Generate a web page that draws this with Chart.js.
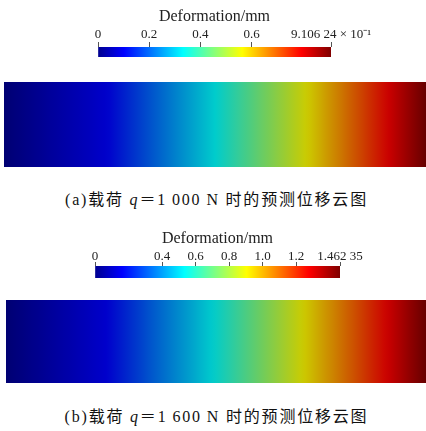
<!DOCTYPE html>
<html>
<head>
<meta charset="utf-8">
<script src="https://cdn.jsdelivr.net/npm/chart.js@4.4.0/dist/chart.umd.min.js"></script>
<style>
  html, body { margin: 0; padding: 0; background: #fff; }
  #wrap { position: relative; width: 426px; height: 431px; overflow: hidden; }
  canvas { position: absolute; }
  .cap { position: absolute; left: 0; width: 433px; text-align: center; color: #111;
         font: 16px "Liberation Serif", "Noto Sans CJK SC", serif; letter-spacing: 1.8px; line-height: 20px; white-space: nowrap; }
</style>
</head>
<body>
<div id="wrap">
  <canvas id="barA" width="426" height="59" style="left:0;top:0"></canvas>
  <canvas id="fieldA" width="422" height="85" style="left:4px;top:82px"></canvas>
  <div class="cap" id="capA" style="top:190px"></div>
  <canvas id="barB" width="426" height="61" style="left:0;top:219px"></canvas>
  <canvas id="fieldB" width="420" height="83" style="left:6px;top:300px"></canvas>
  <div class="cap" id="capB" style="top:407px"></div>
</div>
<script>
const barTitle = 'Deformation/mm';

// (a) q = 1000 N
const maxA = 0.910624;
const tickValsA = [0, 0.2, 0.4, 0.6, maxA];
const tickLabelsA = ['0', '0.2', '0.4', '0.6', '9.106 24 × 10⁻¹'];
const beamPosA = [0, 0.245, 0.5, 0.718, 0.91, 1];
const deformA = [0, 0.101, 0.332, 0.564, 0.795, 0.910624];
const captionA = '(a)载荷 <i>q</i>＝1&thinsp;000&thinsp;N 时的预测位移云图';

// (b) q = 1600 N
const maxB = 1.46235;
const tickValsB = [0, 0.4, 0.6, 0.8, 1.0, 1.2, maxB];
const tickLabelsB = ['0', '0.4', '0.6', '0.8', '1.0', '1.2', '1.462 35'];
const beamPosB = [0, 0.24, 0.493, 0.707, 0.907, 1];
const deformB = [0, 0.162, 0.534, 0.905, 1.277, 1.46235];
const captionB = '(b)载荷 <i>q</i>＝1&thinsp;600&thinsp;N 时的预测位移云图';

// jet colour map (ParaView style)
const jetKnots = [0, 0.111, 0.365, 0.492, 0.619, 0.873, 1];
const jetRGB = [[0,0,143],[0,0,255],[0,255,255],[128,255,128],[255,255,0],[255,0,0],[128,0,0]];

function jet(t, shade) {
    t = Math.max(0, Math.min(1, t));
    let k = 1;
    while (k < jetKnots.length - 1 && t > jetKnots[k]) k++;
    const f = (t - jetKnots[k - 1]) / (jetKnots[k] - jetKnots[k - 1]);
    const c = jetRGB[k - 1].map((v, j) => Math.round((v + (jetRGB[k][j] - v) * f) * shade));
    return `rgb(${c[0]},${c[1]},${c[2]})`;
}

function lerp(xs, ys, x) {
    for (let i = 1; i < xs.length; i++) {
        if (x <= xs[i]) return ys[i - 1] + (ys[i] - ys[i - 1]) * (x - xs[i - 1]) / (xs[i] - xs[i - 1]);
    }
    return ys[ys.length - 1];
}

function makeColorbar(id, max, tickVals, tickLabels, padL, padR, lay) {
    new Chart(document.getElementById(id), {
        type: 'bar',
        data: { labels: [''], datasets: [{
            data: [[0, max]],
            borderWidth: 0,
            barPercentage: 1, categoryPercentage: 1,
            backgroundColor: ctx => {
                const chart = ctx.chart;
                if (!chart.chartArea) return '#00f';
                const x = chart.scales.x;
                const g = chart.ctx.createLinearGradient(x.getPixelForValue(0), 0, x.getPixelForValue(max), 0);
                jetKnots.forEach((k, i) => g.addColorStop(k, jet(k, 1)));
                return g;
            }
        }]},
        options: {
            indexAxis: 'y', responsive: false, animation: false, events: [],
            layout: { padding: { left: padL, right: padR, top: 0, bottom: 2 } },
            plugins: { legend: { display: false }, tooltip: { enabled: false } },
            scales: {
                x: {
                    position: 'top', min: 0, max: max,
                    afterFit: s => { s.height = 47; },
                    afterBuildTicks: s => { s.ticks = tickVals.map(v => ({ value: v })); },
                    ticks: { autoSkip: false, maxRotation: 0, padding: lay.pad, color: '#222',
                             font: { family: 'Liberation Serif', size: 13 },
                             callback: (v, i) => tickLabels[i] },
                    grid: { drawOnChartArea: false, tickLength: lay.tick, color: '#555' },
                    border: { display: false },
                    title: { display: true, text: barTitle, color: '#222', padding: { top: lay.titleTop, bottom: 0 },
                             font: { family: 'Liberation Serif', size: 16 } }
                },
                y: { display: false }
            }
        }
    });
}

function makeField(id, pos, deform, max) {
    new Chart(document.getElementById(id), {
        type: 'bar',
        data: { labels: [''], datasets: [{
            data: [[0, 1]],
            borderWidth: 0,
            barPercentage: 1, categoryPercentage: 1,
            backgroundColor: ctx => {
                const chart = ctx.chart;
                if (!chart.chartArea) return '#00f';
                const x = chart.scales.x;
                const g = chart.ctx.createLinearGradient(x.getPixelForValue(0), 0, x.getPixelForValue(1), 0);
                for (let i = 0; i <= 80; i++) {
                    const p = i / 80;
                    g.addColorStop(p, jet(lerp(pos, deform, p) / max, 0.8));
                }
                return g;
            }
        }]},
        options: {
            indexAxis: 'y', responsive: false, animation: false, events: [],
            layout: { padding: 0 },
            plugins: { legend: { display: false }, tooltip: { enabled: false } },
            scales: { x: { display: false, min: 0, max: 1 }, y: { display: false } }
        }
    });
}

makeColorbar('barA', maxA, tickValsA, tickLabelsA, 98, 95, { pad: 0, tick: 5, titleTop: 7 });
makeField('fieldA', beamPosA, deformA, maxA);
makeColorbar('barB', maxB, tickValsB, tickLabelsB, 95, 86, { pad: -2, tick: 4, titleTop: 10 });
makeField('fieldB', beamPosB, deformB, maxB);
document.getElementById('capA').innerHTML = captionA;
document.getElementById('capB').innerHTML = captionB;
</script>
</body>
</html>
